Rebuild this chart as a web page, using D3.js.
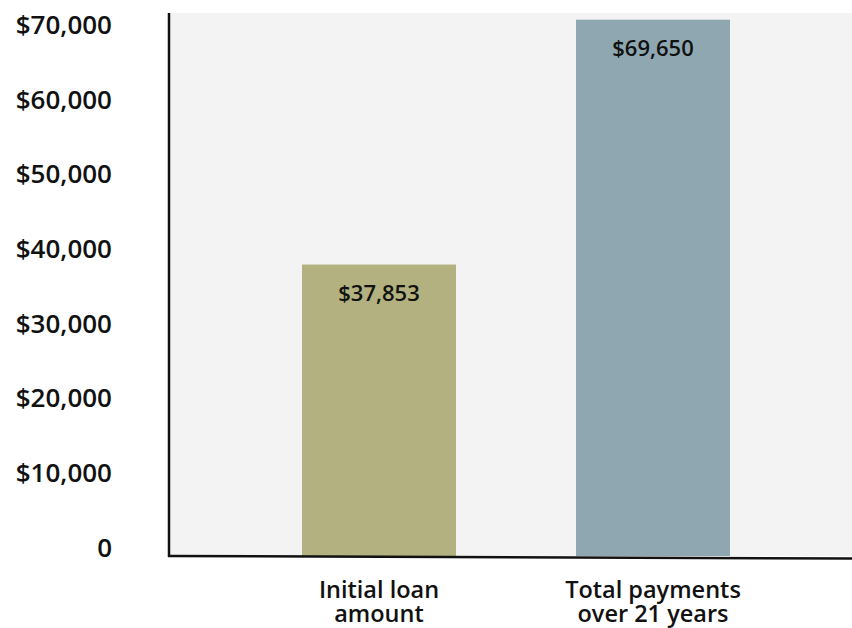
<!DOCTYPE html>
<html>
<head>
<meta charset="utf-8">
<script src="https://cdn.jsdelivr.net/npm/d3@7"></script>
<style>
  body { margin: 0; background: #fff; }
  text { font-family: "Open Sans", sans-serif; fill: #111; }
</style>
</head>
<body>
<script>
const width = 852, height = 628;

const categories = ["Initial loan amount", "Total payments over 21 years"];
const categoryLines = [["Initial loan", "amount"], ["Total payments", "over 21 years"]];
const values = [37853, 69650];
const valueLabels = ["$37,853", "$69,650"];
const tickValues = [0, 10000, 20000, 30000, 40000, 50000, 60000, 70000];
const barColors = ["#b2b17f", "#8fa7b1"];

const svg = d3.select("body").append("svg")
    .attr("width", width)
    .attr("height", height);

const plotLeft = 170, plotRight = 852, plotTop = 13, plotBottom = 556;

const x = d3.scaleBand()
    .domain(categories)
    .range([242, 790])
    .paddingInner(0.438)
    .paddingOuter(0.219);

const y = d3.scaleLinear()
    .domain([0, 70000])
    .range([plotBottom, 17]);

// tick labels sit on a slightly tighter scale than the bars
const yLabel = d3.scaleLinear()
    .domain([0, 70000])
    .range([547, 24]);

// plot background
svg.append("rect")
    .attr("x", plotLeft)
    .attr("y", plotTop)
    .attr("width", plotRight - plotLeft)
    .attr("height", plotBottom - plotTop)
    .attr("fill", "#f3f3f3");

// bars
svg.selectAll(".bar")
    .data(values)
    .enter()
    .append("rect")
    .attr("class", "bar")
    .attr("x", (d, i) => x(categories[i]))
    .attr("y", d => y(d))
    .attr("width", x.bandwidth())
    .attr("height", d => y(0) - y(d))
    .attr("fill", (d, i) => barColors[i]);

// value labels inside the bars
svg.selectAll(".value")
    .data(values)
    .enter()
    .append("text")
    .attr("class", "value")
    .attr("x", (d, i) => x(categories[i]) + x.bandwidth() / 2)
    .attr("y", d => y(d) + 36)
    .attr("text-anchor", "middle")
    .attr("font-size", "22px")
    .attr("font-weight", 600)
    .text((d, i) => valueLabels[i]);

// y axis labels
const yAxis = d3.axisLeft(yLabel)
    .tickValues(tickValues)
    .tickSize(0)
    .tickPadding(0)
    .tickFormat(d => d === 0 ? "0" : "$" + d3.format(",")(d));

const yg = svg.append("g")
    .attr("transform", "translate(112,0)")
    .call(yAxis);
yg.select(".domain").remove();
yg.selectAll("text")
    .attr("font-size", "26px")
    .attr("font-weight", 600)
    .attr("font-family", "Open Sans, sans-serif")
    .attr("fill", "#111")
    .attr("dy", "0.36em");

// axis lines
svg.append("line")
    .attr("x1", plotLeft - 1)
    .attr("y1", plotTop)
    .attr("x2", plotLeft - 1)
    .attr("y2", y(0) + 1)
    .attr("stroke", "#111")
    .attr("stroke-width", 2.5);

svg.append("line")
    .attr("x1", plotLeft - 2)
    .attr("y1", y(0))
    .attr("x2", plotRight)
    .attr("y2", y(0) + 2.5)
    .attr("stroke", "#111")
    .attr("stroke-width", 2.5);

// category labels, one text per line
categories.forEach((c, i) => {
    svg.selectAll(".cat" + i)
        .data(categoryLines[i])
        .enter()
        .append("text")
        .attr("class", "cat" + i)
        .attr("x", x(c) + x.bandwidth() / 2)
        .attr("y", (d, j) => 598 + j * 24)
        .attr("text-anchor", "middle")
        .attr("font-size", "23.5px")
        .attr("font-weight", 600)
        .text(d => d);
});
</script>
</body>
</html>
